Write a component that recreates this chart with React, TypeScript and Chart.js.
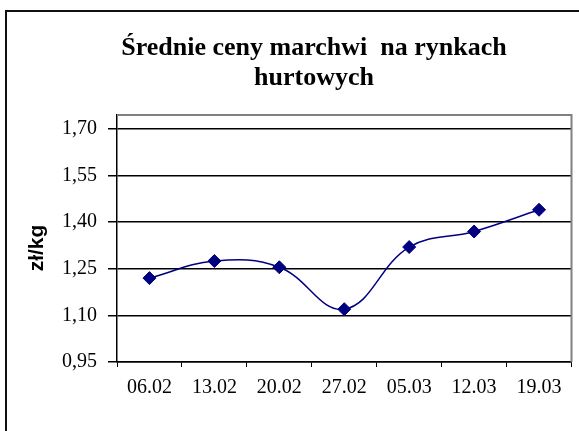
import React, { useEffect, useRef } from 'react';
import { Chart, registerables } from 'chart.js';

Chart.register(...registerables);

const categories: string[] = ['06.02', '13.02', '20.02', '27.02', '05.03', '12.03', '19.03'];
const prices: number[] = [1.22, 1.275, 1.255, 1.12, 1.32, 1.37, 1.44];
const yTicks: number[] = [0.95, 1.1, 1.25, 1.4, 1.55, 1.7];
const titleLines: string[] = ['Średnie ceny marchwi  na rynkach', 'hurtowych'];
const yAxisTitle = 'zł/kg';
const yMin = 0.95;
const yMax = 1.745;

const framePlugin = {
  id: 'frame',
  beforeDraw(chart: any) {
    const ctx = chart.ctx;
    ctx.save();
    ctx.fillStyle = '#ffffff';
    ctx.fillRect(0, 0, chart.width, chart.height);
    ctx.fillStyle = '#111111';
    ctx.fillRect(5, 10, chart.width - 5, 2);
    ctx.fillRect(5, 10, 2, chart.height - 10);
    ctx.restore();
  },
  afterDraw(chart: any) {
    const { ctx, chartArea } = chart;
    ctx.save();
    ctx.strokeStyle = '#808080';
    ctx.lineWidth = 2;
    ctx.beginPath();
    ctx.moveTo(chartArea.left, chartArea.top);
    ctx.lineTo(chartArea.right, chartArea.top);
    ctx.lineTo(chartArea.right, chartArea.bottom);
    ctx.stroke();
    // y-axis title
    ctx.translate(37, 248);
    ctx.rotate(-Math.PI / 2);
    ctx.fillStyle = '#000000';
    ctx.font = 'bold 21px "Liberation Sans", Arial, sans-serif';
    ctx.textAlign = 'center';
    ctx.textBaseline = 'middle';
    ctx.fillText(yAxisTitle, 0, 0);
    ctx.restore();
  },
};

export default function App() {
  const canvasRef = useRef<HTMLCanvasElement | null>(null);

  useEffect(() => {
    if (!canvasRef.current) return;
    const chart = new Chart(canvasRef.current, {
      type: 'line',
      data: {
        labels: categories,
        datasets: [
          {
            data: prices,
            borderColor: '#000080',
            backgroundColor: '#000080',
            borderWidth: 1.5,
            tension: 0.4,
            pointStyle: 'rectRot',
            pointRadius: 6.5,
            pointBorderWidth: 1,
            pointBackgroundColor: '#000080',
            pointBorderColor: '#000080',
            fill: false,
          },
        ],
      },
      options: {
        responsive: false,
        animation: false,
        layout: { padding: { left: 51, right: 2, top: 0, bottom: 0 } },
        plugins: {
          legend: { display: false },
          tooltip: { enabled: false },
          title: {
            display: true,
            text: titleLines,
            color: '#000000',
            font: { family: '"Liberation Serif", "Times New Roman", serif', size: 26, weight: 'bold', lineHeight: 1.15 },
            padding: { top: 33, bottom: 22.2 },
          },
        },
        scales: {
          x: {
            offset: true,
            grid: {
              offset: true,
              drawOnChartArea: false,
              drawTicks: true,
              tickLength: 5,
              color: '#000000',
              lineWidth: 1,
            },
            border: { color: '#000000', width: 1.5 },
            ticks: {
              color: '#000000',
              padding: 9,
              maxRotation: 0,
              autoSkip: false,
              font: { family: '"Liberation Serif", "Times New Roman", serif', size: 20 },
            },
            afterFit(scale: any) {
              scale.height = 69;
            },
          },
          y: {
            min: yMin,
            max: yMax,
            afterBuildTicks(scale: any) {
              scale.ticks = yTicks.map((v) => ({ value: v }));
            },
            afterFit(scale: any) {
              scale.width = 66;
            },
            grid: {
              color: '#000000',
              lineWidth: 1.5,
              tickLength: 9,
              drawTicks: true,
            },
            border: { color: '#000000', width: 1.5 },
            ticks: {
              color: '#000000',
              padding: 11,
              font: { family: '"Liberation Serif", "Times New Roman", serif', size: 20 },
              callback: (v: any) => Number(v).toFixed(2).replace('.', ','),
            },
          },
        },
      },
      plugins: [framePlugin],
    });
    return () => chart.destroy();
  }, []);

  return (
    <div style={{ position: 'absolute', left: 0, top: 0, width: 579, height: 431 }}>
      <canvas ref={canvasRef} width={579} height={431} style={{ display: 'block' }} />
    </div>
  );
}
